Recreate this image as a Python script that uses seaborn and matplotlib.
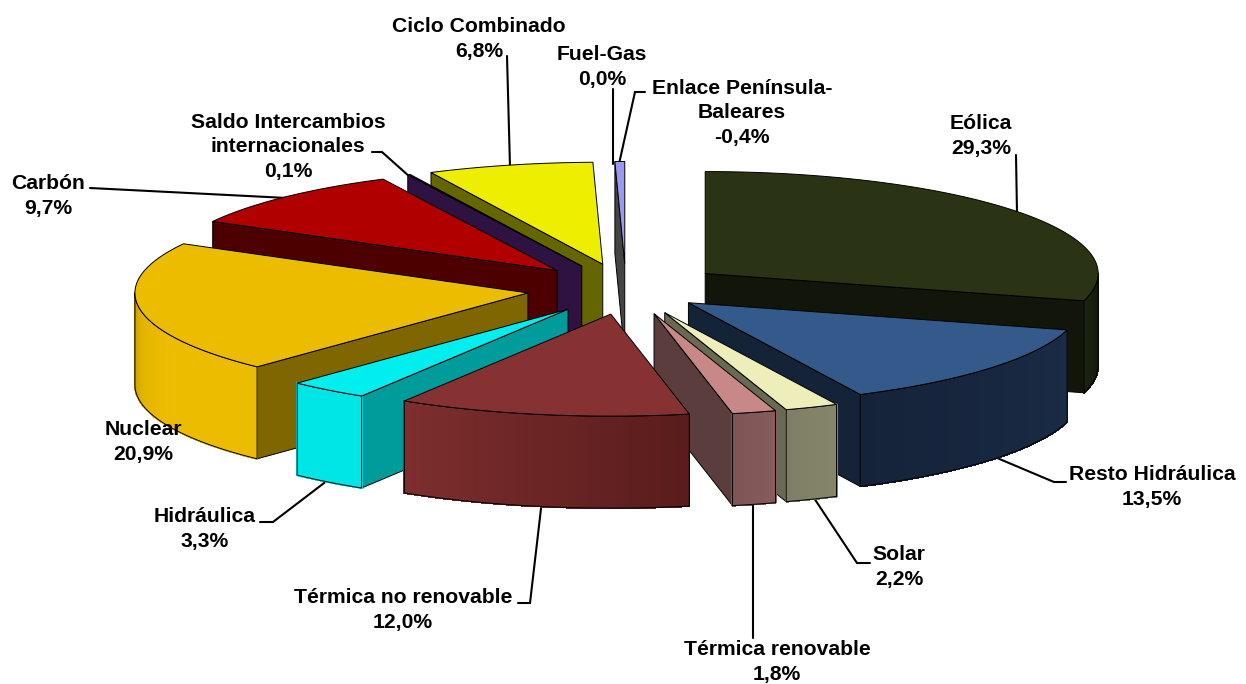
#!/usr/bin/env python

import numpy as np
import seaborn as sns
import matplotlib.pyplot as plt
from matplotlib.patches import Polygon

# Data, clockwise from 12 o'clock
labels = [
    "Eólica",
    "Resto Hidráulica",
    "Solar",
    "Térmica renovable",
    "Térmica no renovable",
    "Hidráulica",
    "Nuclear",
    "Carbón",
    "Saldo Intercambios\ninternacionales",
    "Ciclo Combinado",
    "Fuel-Gas",
    "Enlace Península-\nBaleares",
]
values = [29.3, 13.5, 2.2, 1.8, 12.0, 3.3, 20.9, 9.7, 0.1, 6.8, 0.0, -0.4]

# Style of every slice: top, radial wall, outer wall gradient stops
top_colors = ["#2a3414", "#335a8a", "#eeeebb", "#c98888", "#873232", "#00eeee",
              "#ecbc00", "#b00000", "#33194d", "#eeee00", "#555555", "#9999ee"]
side_colors = ["#12160a", "#142338", "#6a6a52", "#5c3d3d", "#5e1e1e", "#009b9b",
               "#7f6600", "#4d0000", "#2d1242", "#666600", "#444444", "#444444"]
wall_stops = [
    ["#12160a", "#1a2210"],
    ["#1a2b45", "#15233a"],
    ["#85856a", "#7f7f65"],
    ["#865c5c", "#7e5454"],
    ["#5a1c1c", "#7d2e2e"],
    ["#00e6e6", "#00e6e6"],
    ["#ecbc00", "#ecbc00", "#ecbc00", "#e4b500", "#c9a000"],
    ["#4d0000", "#4d0000"],
    ["#2d1242", "#2d1242"],
    ["#666600", "#666600"],
    ["#444444", "#444444"],
    ["#444444", "#444444"],
]
explode = [0.25, 0.21, 0.25, 0.25, 0.25, 0.25, 0.25, 0.25, 0.25, 0.25, 0.25, 0.25]
# small sideways shift the reference has from its perspective
nudge_x = [2, 0, 3, 4, 3, 3, 0, 0, 0, 1, 0, 1]

# Back to front
draw_order = [0, 11, 9, 8, 7, 6, 5, 1, 2, 3, 4]

# Pie geometry in figure pixels
cx, cy = 625, 289
rx, ry = 393, 102
depth = 92

# Centre of each label and its leader line
label_xy = [(981, 136), (1152, 487), (899, 567), (777, 662), (403, 610), (205, 529),
            (143, 442), (48, 196), (288, 147), (479, 39), (602, 67), (742, 113)]
leaders = [
    [(1016, 155), (1017, 213)],
    [(1066, 482), (1054, 482), (990, 455)],
    [(870, 563), (857, 563), (812, 495)],
    [(753, 638), (753, 500)],
    [(518, 603), (530, 603), (542, 500)],
    [(260, 522), (273, 522), (328, 480)],
    None,
    [(90, 188), (287, 198)],
    [(372, 152), (382, 152), (410, 177)],
    [(507, 56), (510, 167)],
    [(613, 89), (613, 164)],
    [(645, 92), (635, 92), (619, 164)],
]


def rim(apex, theta):
    return np.column_stack([apex[0] + rx * np.sin(theta), apex[1] - ry * np.cos(theta)])


def draw_slice(ax, i, start, end):
    mid = (start + end) / 2
    apex = np.array([cx + nudge_x[i] + explode[i] * rx * np.sin(mid), cy - explode[i] * ry * np.cos(mid)])
    thetas = np.linspace(start, end, 60)
    arc = rim(apex, thetas)
    down = np.array([0, depth])

    # Radial walls that face the viewer
    if start > np.pi:
        p = rim(apex, np.array([start]))[0]
        ax.add_patch(Polygon([apex, p, p + down, apex + down], fc=side_colors[i], ec="black", lw=0.7))
    if end < np.pi:
        p = rim(apex, np.array([end]))[0]
        ax.add_patch(Polygon([apex, p, p + down, apex + down], fc=side_colors[i], ec="black", lw=0.7))

    # Outer wall only on the front half of the ellipse
    front = np.linspace(max(start, np.pi / 2), min(end, 3 * np.pi / 2), 40)
    if front[-1] > front[0]:
        shades = sns.blend_palette(wall_stops[i], len(front) - 1)
        pts = rim(apex, front)
        for k, c in enumerate(shades):
            quad = [pts[k], pts[k + 1], pts[k + 1] + down, pts[k] + down]
            ax.add_patch(Polygon(quad, fc=c, ec=c, lw=0.8, antialiased=False))
        outline = np.vstack([pts, (pts + down)[::-1]])
        ax.add_patch(Polygon(outline, fc="none", ec="black", lw=0.7))

    ax.add_patch(Polygon(np.vstack([apex, arc]), fc=top_colors[i], ec="black", lw=0.7))


def main():
    sns.set_theme(style="white")
    plt.rcParams["font.family"] = ["Liberation Sans", "DejaVu Sans"]

    fig, ax = plt.subplots(figsize=(12.46, 6.84), dpi=100)
    fig.subplots_adjust(left=0, right=1, top=1, bottom=0)
    ax.set_xlim(0, 1246)
    ax.set_ylim(684, 0)
    ax.axis("off")

    sizes = np.abs(values)
    edges = np.concatenate([[0], np.cumsum(sizes)]) / sizes.sum() * 2 * np.pi
    for i in draw_order:
        draw_slice(ax, i, edges[i], edges[i + 1])

    for i, name in enumerate(labels):
        if leaders[i] is not None:
            xs, ys = zip(*leaders[i])
            # leaders go behind the slices so they stop at the edge
            ax.plot(xs, ys, color="black", lw=1.5, solid_joinstyle="miter", zorder=0.5)
        pct = f"{values[i]:.1f}".replace(".", ",")
        ax.text(label_xy[i][0], label_xy[i][1], f"{name}\n{pct}%", ha="center", va="center",
                fontsize=15.2, fontweight="bold", color="black", linespacing=1.36, zorder=5)

    plt.savefig("out.png", dpi=100)
    plt.close()


if __name__ == "__main__":
    main()
